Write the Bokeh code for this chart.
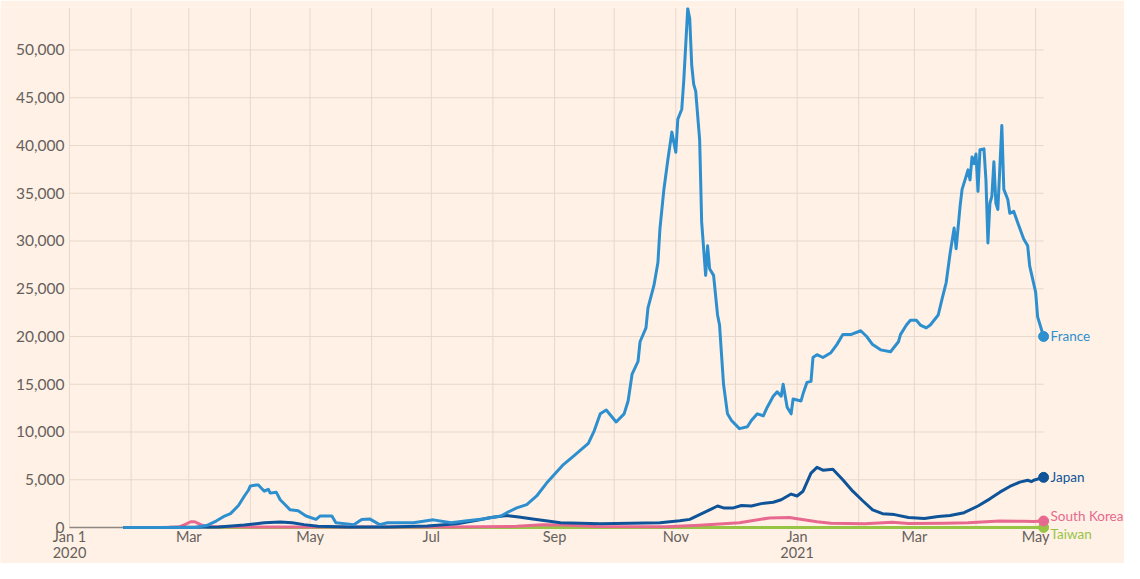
import pandas as pd
from bokeh.plotting import figure
from bokeh.models import FixedTicker, NumeralTickFormatter, Label, Range1d
from bokeh.embed import file_html
from bokeh.resources import INLINE

# days since 2020-01-01, 7-day average of new cases
france_points = [
    (27, 0), (63, 0), (69, 200), (74, 700), (78, 1200), (81, 1450), (85, 2300), (88, 3300),
    (90, 3900), (91, 4350), (94, 4450), (95, 4450), (98, 3800), (100, 4000), (101, 3600),
    (104, 3700), (106, 2900), (111, 1850), (115, 1750), (119, 1200), (124, 850), (126, 1200),
    (132, 1200), (134, 500), (143, 300), (147, 850), (151, 900), (156, 300), (160, 500),
    (173, 500), (183, 800), (192, 500), (200, 700), (208, 900), (217, 1200), (220, 1550),
    (225, 2050), (230, 2400), (235, 3300), (240, 4650), (248, 6500), (254, 7550), (261, 8800),
    (264, 10150), (267, 11900), (270, 12300), (275, 11050), (279, 11900), (281, 13250),
    (283, 16050), (286, 17400), (287, 19450), (290, 20900), (291, 23000), (294, 25350),
    (296, 27750), (297, 31250), (299, 35400), (301, 38500), (303, 41400), (305, 39300),
    (306, 42750), (308, 43800), (309, 46800), (311, 54350), (312, 53300), (313, 48400),
    (314, 46400), (315, 45700), (317, 40550), (318, 32000), (320, 26400), (321, 29500),
    (322, 27100), (324, 26400), (326, 22250), (327, 21200), (329, 15000), (331, 11900),
    (333, 11200), (337, 10350), (341, 10550), (343, 11200), (346, 11900), (349, 11700),
    (351, 12600), (354, 13750), (356, 14200), (358, 13750), (359, 15000), (361, 12600),
    (363, 11900), (364, 13450), (368, 13250), (369, 14000), (371, 15200), (373, 15300),
    (374, 17800), (376, 18100), (379, 17800), (383, 18300), (386, 19150), (389, 20200),
    (393, 20200), (398, 20600), (401, 20000), (404, 19150), (408, 18600), (413, 18400),
    (417, 19450), (418, 20200), (421, 21200), (423, 21700), (426, 21700), (428, 21200),
    (431, 20900), (433, 21200), (437, 22250), (439, 24000), (441, 25650), (443, 28750),
    (445, 31350), (446, 29200), (448, 33650), (449, 35400), (451, 36750), (452, 37450),
    (453, 36400), (454, 38800), (455, 38100), (456, 39100), (457, 35200), (458, 39550),
    (460, 39650), (461, 36400), (462, 29800), (463, 33950), (464, 34700), (465, 38300),
    (466, 33950), (467, 33300), (469, 42100), (470, 35400), (472, 34350), (473, 32900),
    (475, 33100), (477, 31900), (480, 30200), (482, 29500), (483, 27400), (486, 24650),
    (487, 22050), (490, 20000),
]
japan_points = [
    (27, 0), (45, 10), (60, 30), (75, 50), (88, 250), (98, 500), (106, 580), (112, 500),
    (118, 300), (125, 120), (140, 40), (160, 45), (180, 150), (195, 400), (205, 750),
    (212, 1050), (220, 1250), (226, 1100), (233, 900), (247, 500), (267, 400), (297, 500),
    (307, 700), (312, 850), (317, 1350), (322, 1850), (326, 2250), (329, 2050), (334, 2050),
    (338, 2300), (343, 2250), (348, 2500), (354, 2650), (358, 2900), (363, 3500), (366, 3300),
    (369, 3800), (373, 5700), (376, 6300), (379, 6000), (384, 6100), (389, 5000), (394, 3800),
    (399, 2800), (404, 1850), (409, 1450), (415, 1350), (422, 1050), (430, 950), (437, 1150),
    (443, 1250), (450, 1550), (457, 2250), (463, 3000), (468, 3700), (473, 4300), (478, 4750),
    (482, 4950), (484, 4800), (485, 4950), (490, 5250),
]
korea_points = [
    (27, 5), (50, 20), (55, 50), (58, 300), (61, 600), (63, 600), (66, 300), (69, 80),
    (85, 90), (100, 40), (150, 40), (190, 40), (225, 120), (238, 300), (248, 250), (265, 100),
    (300, 90), (317, 240), (337, 500), (352, 1000), (362, 1050), (376, 600), (383, 450),
    (400, 400), (414, 550), (422, 430), (440, 450), (452, 500), (468, 690), (480, 650),
    (485, 620), (490, 680),
]
taiwan_points = [(69, 5), (150, 2), (250, 3), (350, 8), (450, 5), (490, 10)]

series_names = ["Taiwan", "South Korea", "Japan", "France"]
series_colors = ["#98c446", "#e8698f", "#0f5499", "#2e8fcf"]
series_data = [taiwan_points, korea_points, japan_points, france_points]
label_offsets = [-7, 5, 0, 0]

tick_dates = ["2020-01-01", "2020-03-01", "2020-05-01", "2020-07-01", "2020-09-01",
              "2020-11-01", "2021-01-01", "2021-03-01", "2021-05-01"]
tick_labels = ["Jan 1\n2020", "Mar", "May", "Jul", "Sep", "Nov", "Jan\n2021", "Mar", "May"]
y_ticks = [0, 5000, 10000, 15000, 20000, 25000, 30000, 35000, 40000, 45000, 50000]

base = pd.Timestamp("2020-01-01")
tick_days = [(pd.Timestamp(d) - base).days for d in tick_dates]
month_days = [(d - base).days for d in pd.date_range("2020-01-01", "2021-05-01", freq="MS")]
end_day = france_points[-1][0]

BG = "#FFF1E5"
FONT = "Lato"
TXT = "#66605C"
GRID = "#e6d8cc"
Y_TOP = 54450

p = figure(width=1124, height=563, output_backend="svg", toolbar_location=None,
           x_range=Range1d(-34.7, 530.7), y_range=Range1d(-3770, Y_TOP),
           min_border_left=0, min_border_right=0, min_border_top=7, min_border_bottom=0)
p.background_fill_color = BG
p.border_fill_color = BG
p.outline_line_color = None
p.xgrid.visible = False
p.ygrid.visible = False

# gridlines: vertical monthly lines from 0 to top, horizontal lines up to last data day
m = len(month_days)
p.segment(x0=month_days, y0=[0] * m, x1=month_days, y1=[Y_TOP] * m,
          line_color=GRID, line_width=1)
n = len(y_ticks)
p.segment(x0=[0] * n, y0=y_ticks, x1=[end_day] * n, y1=y_ticks,
          line_color=GRID, line_width=1)
p.segment(x0=[0], y0=[0], x1=[end_day], y1=[0], line_color="#8f8782", line_width=1.5)

p.xaxis.ticker = FixedTicker(ticks=tick_days)
p.xaxis.major_label_overrides = {d: l for d, l in zip(tick_days, tick_labels)}
p.xaxis.fixed_location = 0
p.yaxis.ticker = FixedTicker(ticks=y_ticks)
p.yaxis.formatter = NumeralTickFormatter(format="0,0")
p.yaxis.fixed_location = 0
for ax in (p.xaxis[0], p.yaxis[0]):
    ax.axis_line_color = None
    ax.major_tick_line_color = None
    ax.minor_tick_line_color = None
    ax.major_tick_out = 0
    ax.major_tick_in = 0
    ax.minor_tick_out = 0
    ax.major_label_text_font = FONT
    ax.major_label_text_color = TXT
    ax.major_label_text_font_size = "15.5px"
p.xaxis.major_label_text_font_size = "14.5px"
p.xaxis.major_label_text_line_height = 0.9
p.xaxis.major_label_standoff = 1
p.yaxis.major_label_standoff = 5

for name, color, pts, off in zip(series_names, series_colors, series_data, label_offsets):
    xs = [a for a, b in pts]
    ys = [b for a, b in pts]
    p.line(xs, ys, line_color=color, line_width=3, line_join="round")
    p.scatter([xs[-1]], [ys[-1]], size=10, fill_color=color, line_color=color)
    p.add_layout(Label(x=xs[-1], y=ys[-1], x_offset=7, y_offset=off, text=name,
                       text_color=color, text_font=FONT, text_font_size="13.5px",
                       text_baseline="middle"))

open("out.html", "w").write(file_html(p, INLINE))
